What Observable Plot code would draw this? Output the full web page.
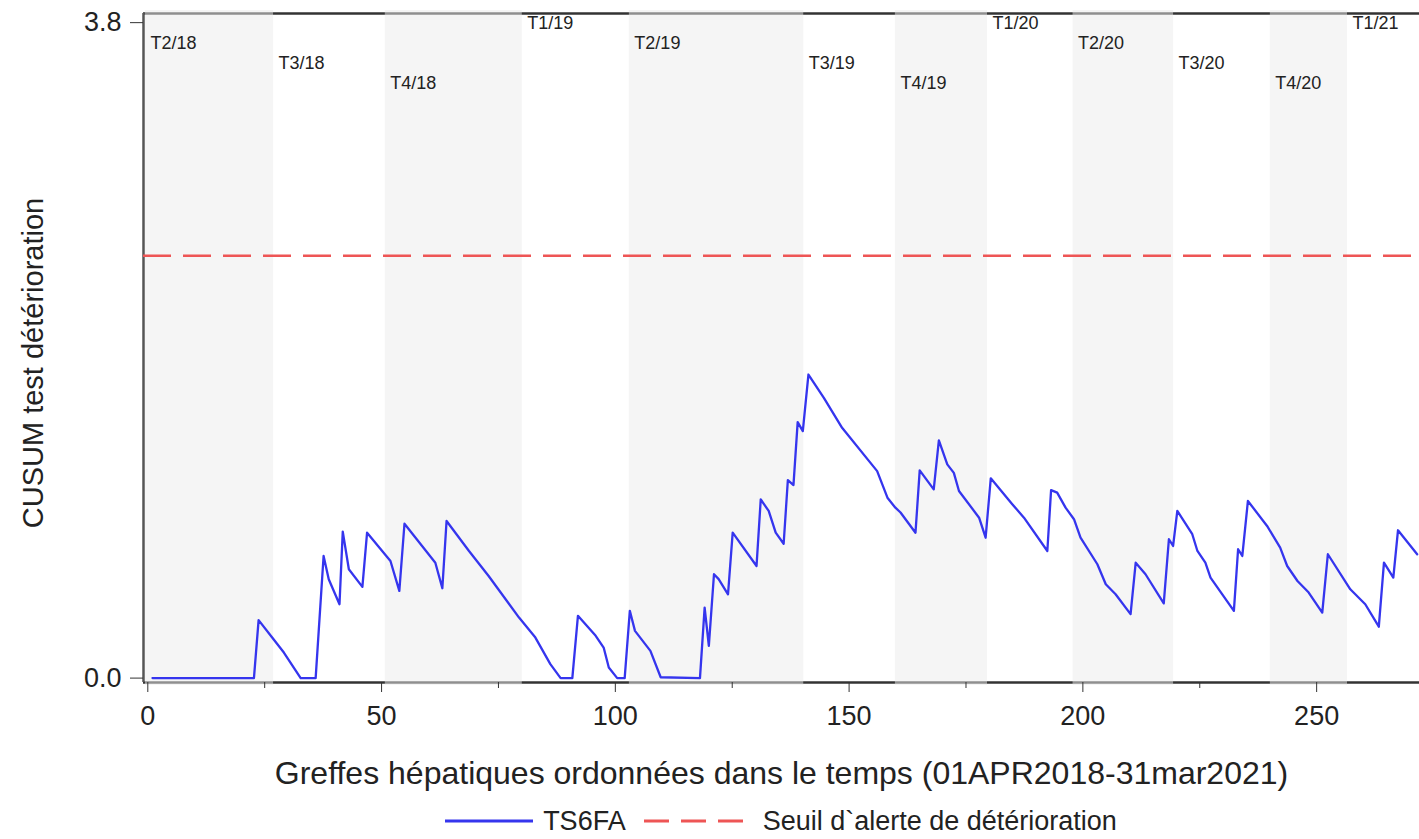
<!DOCTYPE html>
<html>
<head>
<meta charset="utf-8">
<script src="https://cdn.jsdelivr.net/npm/d3@7"></script>
<script src="https://cdn.jsdelivr.net/npm/@observablehq/plot@0.6"></script>
<style>
  body { margin: 0; background: #fff; font-family: "Liberation Sans", Arial, sans-serif; overflow: hidden; }
  #legend { display: flex; justify-content: center; align-items: center; padding-left: 143px; margin-top: 6px;
            font-size: 27px; line-height: 30px; color: #222; height: 30px; }
  #legend .item { display: flex; align-items: center; }
  #legend svg { display: block; }
</style>
</head>
<body>
<div id="chart"></div>
<div id="legend"></div>
<script>
// ---- text ----
const seriesName = "TS6FA";
const thresholdName = "Seuil d`alerte de détérioration";
const xLabel = "Greffes hépatiques ordonnées dans le temps (01APR2018-31mar2021)";
const yLabel = "CUSUM test détérioration";

// ---- CUSUM series (vertices) ----
const graftIndex = [1, 22.7, 23.7, 26.6, 29.1, 32.7, 35.9, 37.6, 38.7, 41.0, 41.7, 43.0, 45.9, 46.9, 51.9, 53.8,
  54.9, 61.5, 63.0, 63.9, 68.7, 72.9, 79.4, 82.9, 86.1, 88.3, 90.8, 92.0, 95.8, 97.5, 98.6, 100.4, 102.0,
  103.1, 104.2, 107.5, 109.7, 118.1, 119.1, 120.0, 121.1, 122.1, 124.1, 125.1, 130.2, 131.1, 132.8, 134.3,
  136.0, 136.9, 138.1, 139.0, 140.1, 141.3, 144.6, 148.5, 156.0, 158.2, 159.9, 161.0, 164.2, 165.1, 168.1,
  169.2, 171.0, 172.4, 173.5, 177.8, 179.2, 180.3, 184.9, 187.4, 192.4, 193.2, 194.5, 196.3, 198.1, 199.5,
  203.1, 204.9, 207.0, 210.2, 211.3, 213.4, 217.3, 218.4, 219.3, 220.2, 223.4, 224.5, 226.2, 227.3, 232.3,
  233.2, 234.1, 235.3, 239.4, 242.2, 243.7, 245.9, 248.3, 251.2, 252.4, 257.2, 260.4, 263.3, 264.4, 266.4,
  267.4, 271.5];
const cusumValue = [0, 0, 0.336, 0.235, 0.148, 0, 0, 0.708, 0.573, 0.428, 0.849, 0.631, 0.529, 0.843, 0.679, 0.506,
  0.895, 0.669, 0.521, 0.911, 0.737, 0.592, 0.351, 0.235, 0.081, 0, 0, 0.361, 0.245, 0.177, 0.061, 0, 0,
  0.39, 0.274, 0.158, 0.005, 0, 0.409, 0.187, 0.602, 0.574, 0.486, 0.843, 0.650, 1.036, 0.969, 0.843,
  0.779, 1.148, 1.119, 1.484, 1.432, 1.760, 1.625, 1.451, 1.2, 1.046, 0.988, 0.96, 0.843, 1.204, 1.094,
  1.378, 1.239, 1.19, 1.085, 0.93, 0.814, 1.158, 1.008, 0.93, 0.737, 1.09, 1.075, 0.988, 0.921, 0.814,
  0.66, 0.544, 0.486, 0.371, 0.669, 0.602, 0.433, 0.805, 0.766, 0.969, 0.834, 0.737, 0.669, 0.583, 0.39,
  0.747, 0.708, 1.027, 0.882, 0.756, 0.65, 0.563, 0.496, 0.38, 0.718, 0.515, 0.428, 0.298, 0.669, 0.583,
  0.857, 0.718];
const alertThreshold = 2.448;

// ---- quarters ----
const quarterLabels = ["T2/18", "T3/18", "T4/18", "T1/19", "T2/19", "T3/19", "T4/19", "T1/20", "T2/20", "T3/20", "T4/20", "T1/21"];
const quarterStart = [-0.5, 26.9, 50.8, 80.1, 103.0, 140.3, 159.9, 179.6, 197.9, 219.4, 240.1, 256.6];

// ---- axes ----
const xDomain = [-0.92, 272];
const yDomain = [-0.0255, 3.853];
const yTicks = [0, 3.8];
const xTicksMajor = [0, 50, 100, 150, 200, 250];
const xTicksMinor = [25, 75, 125, 175, 225];

const series = graftIndex.map((x, i) => ({x, y: cusumValue[i]}));
const quarters = quarterLabels.map((label, i) => ({
  label,
  x1: quarterStart[i],
  x2: i + 1 < quarterStart.length ? quarterStart[i + 1] : xDomain[1],
  shaded: label[1] === "2" || label[1] === "4",
  q: +label[1]
}));

const font = "'Liberation Sans', Arial, sans-serif";
const axisColor = "#333";

const quarterTextMarks = [1, 2, 3, 4].map(q =>
  Plot.text(quarters.filter(d => d.q === q), {
    x: "x1", text: "label", frameAnchor: "top", dy: 10 + 20 * (q - 1), dx: 5,
    textAnchor: "start", lineAnchor: "middle", fontSize: 18, fill: "#222"
  })
);

const chart = Plot.plot({
  width: 1419,
  height: 800,
  marginLeft: 143,
  marginRight: 0,
  marginTop: 13,
  marginBottom: 118,
  style: {fontFamily: font, fontSize: "27px", color: "#222", background: "#fff", overflow: "visible"},
  x: {domain: xDomain},
  y: {domain: yDomain},
  marks: [
    Plot.ruleY([yDomain[0], yDomain[1]], {stroke: axisColor, strokeWidth: 2.5}),
    Plot.ruleX([xDomain[0]], {stroke: "#555", strokeWidth: 2.5}),
    Plot.rect(quarters.filter(d => d.shaded), {x1: "x1", x2: "x2", fill: "#ebebeb", fillOpacity: 0.5, insetTop: -3, insetBottom: -3}),
    Plot.ruleY([alertThreshold], {stroke: "#ee5555", strokeWidth: 2.5, strokeDasharray: "28,12"}),
    Plot.line(series, {x: "x", y: "y", stroke: "#3535ee", strokeWidth: 2.3}),
    ...quarterTextMarks,
    Plot.axisY(yTicks, {tickFormat: d3.format(".1f"), tickSize: 13, tickPadding: 9, label: null, fontSize: 27, stroke: axisColor}),
    Plot.axisX(xTicksMajor, {tickSize: 10, tickPadding: 13, label: null, fontSize: 27, stroke: axisColor}),
    Plot.axisX(xTicksMinor, {tickSize: 6, tickFormat: () => "", label: null, stroke: axisColor}),
    Plot.text([xLabel], {frameAnchor: "bottom", dy: 91, lineAnchor: "middle", fontSize: 32, fill: "#222"}),
    Plot.text([yLabel], {frameAnchor: "left", textAnchor: "middle", rotate: -90, dx: -110, dy: 15, lineAnchor: "middle", fontSize: 29, fill: "#222"})
  ]
});
document.getElementById("chart").appendChild(chart);

// ---- legend ----
const legend = document.getElementById("legend");
legend.innerHTML = `
  <div class="item">
    <svg width="88" height="10"><line x1="0" x2="88" y1="5" y2="5" stroke="#3535ee" stroke-width="3"/></svg>
    <span style="margin-left:10px">${seriesName}</span>
  </div>
  <div class="item" style="margin-left:18px">
    <svg width="105" height="10"><line x1="0" x2="105" y1="5" y2="5" stroke="#ee5555" stroke-width="3" stroke-dasharray="25,12"/></svg>
    <span style="margin-left:14px">${thresholdName}</span>
  </div>`;
</script>
</body>
</html>
